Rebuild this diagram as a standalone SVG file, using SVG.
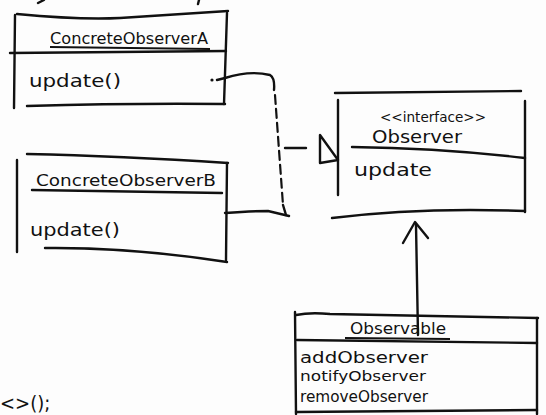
<svg xmlns="http://www.w3.org/2000/svg" width="546" height="415" viewBox="0 0 546 415">
<style>
.s{fill:none;stroke:#111;stroke-width:2.4;stroke-linecap:round;stroke-linejoin:round}
.d{fill:none;stroke:#111;stroke-width:2.2;stroke-dasharray:9 5;stroke-linecap:round}
.t{font-family:"DejaVu Sans Condensed","DejaVu Sans",sans-serif;fill:#111}
.u{fill:none;stroke:#111;stroke-width:1.8}
</style>
<rect width="546" height="415" fill="#fdfdfd"/>
<path class="s" d="M38 3 L44 0 M199 0 L198 4"/>
<g id="concreteObserverA">
<path class="s" d="M17 14 Q80 20 120 18 L228 11"/>
<path class="s" d="M15 15 L14 108"/>
<path class="s" d="M227 13 L224 104"/>
<path class="s" d="M10 53 L226 51"/>
<path class="s" d="M27 106 Q130 103 225 104"/>
<text class="t" x="50" y="44" font-size="15" textLength="158" lengthAdjust="spacingAndGlyphs">ConcreteObserverA</text>
<path class="u" d="M50 47 L210 49"/>
<text class="t" x="29" y="87" font-size="17" textLength="92" lengthAdjust="spacingAndGlyphs">update()</text>
<circle cx="212" cy="80" r="1.6" fill="#111"/>
</g>
<g id="concreteObserverB">
<path class="s" d="M27 154 Q120 156 228 163"/>
<path class="s" d="M17 160 L17 252"/>
<path class="s" d="M227 163 L226 260"/>
<path class="s" d="M32 190 L222 193"/>
<path class="s" d="M45 248 Q130 247 227 262"/>
<text class="t" x="36" y="186" font-size="15" textLength="180" lengthAdjust="spacingAndGlyphs">ConcreteObserverB</text>
<text class="t" x="30" y="236" font-size="17" textLength="90" lengthAdjust="spacingAndGlyphs">update()</text>
</g>
<g id="observer">
<path class="s" d="M335 93 L521 91"/>
<path class="s" d="M338 100 L338 195"/>
<path class="s" d="M525 101 L525 212"/>
<path class="s" d="M352 147 Q440 148 525 158"/>
<path class="s" d="M332 218 Q420 207 525 211"/>
<text class="t" x="380" y="122" font-size="14" textLength="106" lengthAdjust="spacingAndGlyphs">&lt;&lt;interface&gt;&gt;</text>
<text class="t" x="372" y="143" font-size="17" textLength="90" lengthAdjust="spacingAndGlyphs">Observer</text>
<text class="t" x="354" y="176" font-size="17" textLength="78" lengthAdjust="spacingAndGlyphs">update</text>
</g>
<g id="observable">
<path class="s" d="M296 315 Q310 312 330 314 L538 318"/>
<path class="s" d="M295 312 L296 414"/>
<path class="s" d="M537 318 L537 414"/>
<path class="s" d="M297 340 L537 343"/>
<path class="s" d="M296 412 L537 410"/>
<text class="t" x="350" y="334" font-size="16" textLength="96" lengthAdjust="spacingAndGlyphs">Observable</text>
<path class="u" d="M345 338 L450 339"/>
<text class="t" x="300" y="363" font-size="15" textLength="128" lengthAdjust="spacingAndGlyphs">addObserver</text>
<text class="t" x="300" y="381" font-size="14" textLength="126" lengthAdjust="spacingAndGlyphs">notifyObserver</text>
<text class="t" x="300" y="402" font-size="15" textLength="128" lengthAdjust="spacingAndGlyphs">removeObserver</text>
</g>
<g id="connectors">
<path class="s" d="M217 80 L225 78 Q250 70 270 75 Q275 78 274 90"/>
<path class="d" d="M275 95 L283 205"/>
<path class="s" d="M283 205 L286 215"/>
<path class="s" d="M225 213 Q250 211 268 211 L289 216"/>
<path class="s" d="M285 148 L306 148"/>
<path class="s" d="M320 135 L320 163 L338 160 Z" fill="none"/>
<path class="s" d="M418 335 L416 225"/>
<path class="s" d="M403 243 L415 222 L428 238"/>
</g>
<text class="t" x="0" y="410" font-size="20">&lt;&gt;();</text>
</svg>
